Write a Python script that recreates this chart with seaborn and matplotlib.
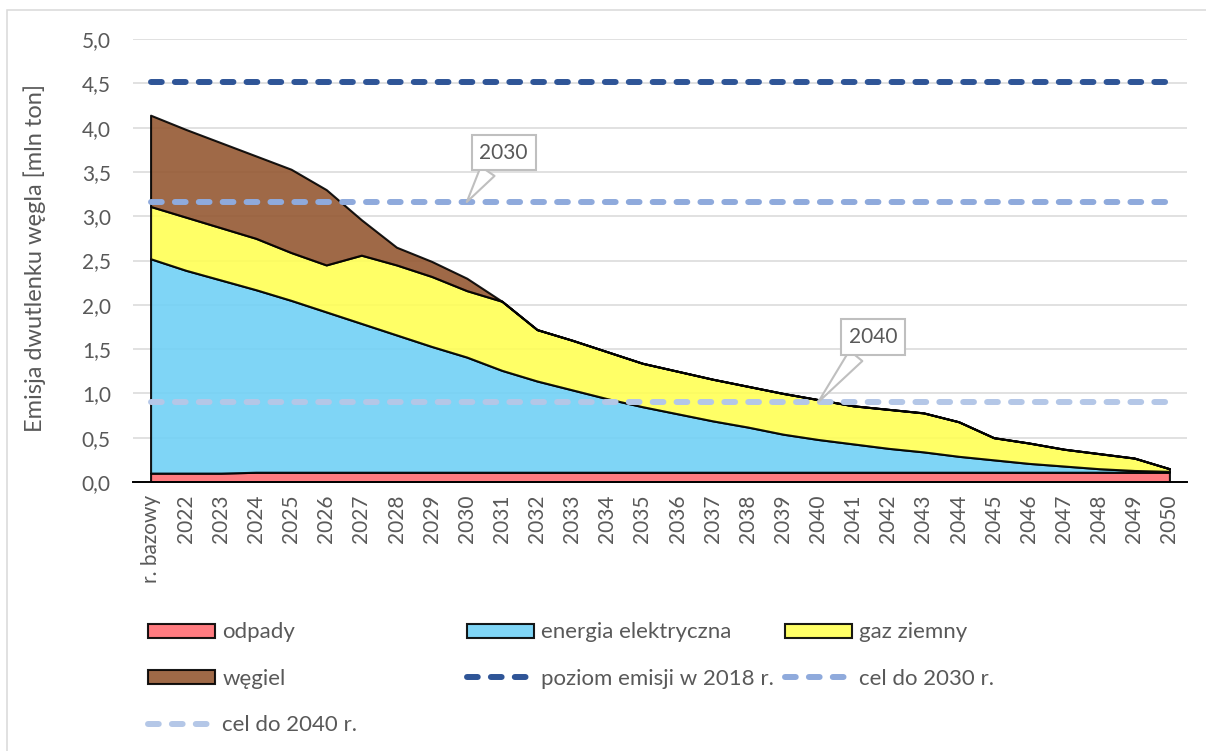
import numpy as np
import pandas as pd
import matplotlib
matplotlib.use("Agg")
import matplotlib.pyplot as plt
from matplotlib.patches import Rectangle
import seaborn as sns

# Categories on the x axis
categories = ["r. bazowy", "2022", "2023", "2024", "2025", "2026", "2027", "2028",
              "2029", "2030", "2031", "2032", "2033", "2034", "2035", "2036", "2037",
              "2038", "2039", "2040", "2041", "2042", "2043", "2044", "2045", "2046",
              "2047", "2048", "2049", "2050"]

# CO2 emissions by source [mln t]
odpady = [0.10, 0.10, 0.10, 0.11, 0.11, 0.11, 0.11, 0.11, 0.11, 0.11, 0.11, 0.11,
          0.11, 0.11, 0.11, 0.11, 0.11, 0.11, 0.11, 0.11, 0.11, 0.11, 0.11, 0.11,
          0.11, 0.11, 0.11, 0.11, 0.11, 0.11]
energia = [2.42, 2.29, 2.18, 2.06, 1.94, 1.81, 1.68, 1.55, 1.42, 1.30, 1.15, 1.03,
           0.93, 0.83, 0.74, 0.66, 0.58, 0.51, 0.43, 0.37, 0.32, 0.27, 0.23, 0.18,
           0.14, 0.10, 0.07, 0.04, 0.02, 0.01]
gaz = [0.59, 0.60, 0.59, 0.58, 0.54, 0.53, 0.77, 0.79, 0.79, 0.75, 0.78, 0.58,
       0.56, 0.53, 0.49, 0.48, 0.47, 0.46, 0.46, 0.45, 0.43, 0.44, 0.44, 0.39,
       0.25, 0.23, 0.19, 0.17, 0.14, 0.03]
wegiel = [1.03, 0.99, 0.96, 0.93, 0.94, 0.85, 0.40, 0.20, 0.17, 0.14, 0.00, 0.00,
          0.00, 0.00, 0.00, 0.00, 0.00, 0.00, 0.00, 0.00, 0.00, 0.00, 0.00, 0.00,
          0.00, 0.00, 0.00, 0.00, 0.00, 0.00]

# Reference levels
poziom_2018 = 4.51
cel_2030 = 3.16
cel_2040 = 0.90

yticks = [0.0, 0.5, 1.0, 1.5, 2.0, 2.5, 3.0, 3.5, 4.0, 4.5, 5.0]

GRAY_TXT = "#595959"
sns.set_theme(style="white")
plt.rcParams["font.family"] = ["Lato", "DejaVu Sans"]

W, H = 1206, 751
fig = plt.figure(figsize=(W / 100, H / 100), dpi=100)
ax = fig.add_axes([133 / W, 1 - 482 / H, (1187 - 133) / W, (482 - 39) / H])

x = np.arange(len(categories))
polys = ax.stackplot(
    x, odpady, energia, gaz, wegiel,
    colors=["#FF6D72", "#71D1F6", "#FFFF55", "#955933"],
    alpha=0.9, edgecolor="black", linewidth=1.5, zorder=2,
)

# Horizontal reference lines
ref = pd.DataFrame({
    "x": np.concatenate([x, x, x]),
    "y": [poziom_2018] * len(x) + [cel_2030] * len(x) + [cel_2040] * len(x),
    "seria": ["poziom"] * len(x) + ["c2030"] * len(x) + ["c2040"] * len(x),
})
ref_colors = {"poziom": "#2F5597", "c2030": "#8FAADC", "c2040": "#B4C7E7"}
ref_lines = {}
for key in ["poziom", "c2030", "c2040"]:
    sub = ref[ref["seria"] == key]
    n_before = len(ax.lines)
    sns.lineplot(data=sub, x="x", y="y", ax=ax, color=ref_colors[key],
                 linewidth=4.3, linestyle=(0, (1.8, 2.2)), zorder=3,
                 legend=False, estimator=None)
    line = ax.lines[n_before]
    line.set_dash_capstyle("round")
    ref_lines[key] = line

ax.set_xlim(-0.5, len(categories) - 0.5)
ax.set_ylim(0, 5)
ax.set_xlabel("")
ax.set_ylabel("")
ax.set_xticks(x, categories, rotation=90, fontsize=15, color=GRAY_TXT)
ax.set_yticks(yticks, [f"{v:.1f}".replace(".", ",") for v in yticks],
              fontsize=15, color=GRAY_TXT)
ax.tick_params(axis="both", length=0)
ax.tick_params(axis="y", pad=16)
ax.tick_params(axis="x", pad=9)
ax.yaxis.grid(True, color="#D9D9D9", linewidth=1.1)
ax.set_axisbelow(True)
for side in ["top", "right", "left"]:
    ax.spines[side].set_visible(False)
ax.spines["bottom"].set_color("black")
ax.spines["bottom"].set_linewidth(1.4)
ax.spines["bottom"].set_zorder(4)

# Callouts for the target years
for year, level, off in [("2030", cel_2030, (26.6, 35.6)), ("2040", cel_2040, (39.6, 46.9))]:
    ax.annotate(
        year, xy=(categories.index(year), level), xytext=off,
        textcoords="offset points", ha="center", va="center",
        fontsize=15, color=GRAY_TXT, zorder=6,
        bbox=dict(boxstyle="square,pad=0.38", fc="white", ec="#BFBFBF", lw=1.5),
        arrowprops=dict(arrowstyle="wedge,tail_width=0.8,shrink_factor=0.5",
                        fc="white", ec="#BFBFBF", lw=1.5, relpos=(0.29, 0),
                        shrinkA=0, shrinkB=0),
    )

fig.text(35 / W, 1 - 258 / H, "Emisja dwutlenku węgla [mln ton]", rotation=90,
         ha="center", va="center", fontsize=17, color=GRAY_TXT)

# Legend laid out in three columns
leg_kw = dict(loc="upper left", frameon=False, fontsize=16, handlelength=3.0,
              handleheight=0.6, handletextpad=0.35, labelspacing=1.18,
              borderpad=0, borderaxespad=0, labelcolor=GRAY_TXT)
top = 1 - 622.5 / H
fig.legend([polys[0], polys[3], ref_lines["c2040"]],
           ["odpady", "węgiel", "cel do 2040 r."],
           bbox_to_anchor=(148 / W, top), **leg_kw)
fig.legend([polys[1], ref_lines["poziom"]],
           ["energia elektryczna", "poziom emisji w 2018 r."],
           bbox_to_anchor=(467 / W, top), **leg_kw)
fig.legend([polys[2], ref_lines["c2030"]],
           ["gaz ziemny", "cel do 2030 r."],
           bbox_to_anchor=(785 / W, top), **leg_kw)

# Chart frame
fig.patches.append(Rectangle((7 / W, -0.1), 1.2, 1 - 10 / H + 0.1,
                             transform=fig.transFigure, fill=False,
                             ec="#D9D9D9", lw=1.1))

fig.savefig("out.png", dpi=100, facecolor="white")
